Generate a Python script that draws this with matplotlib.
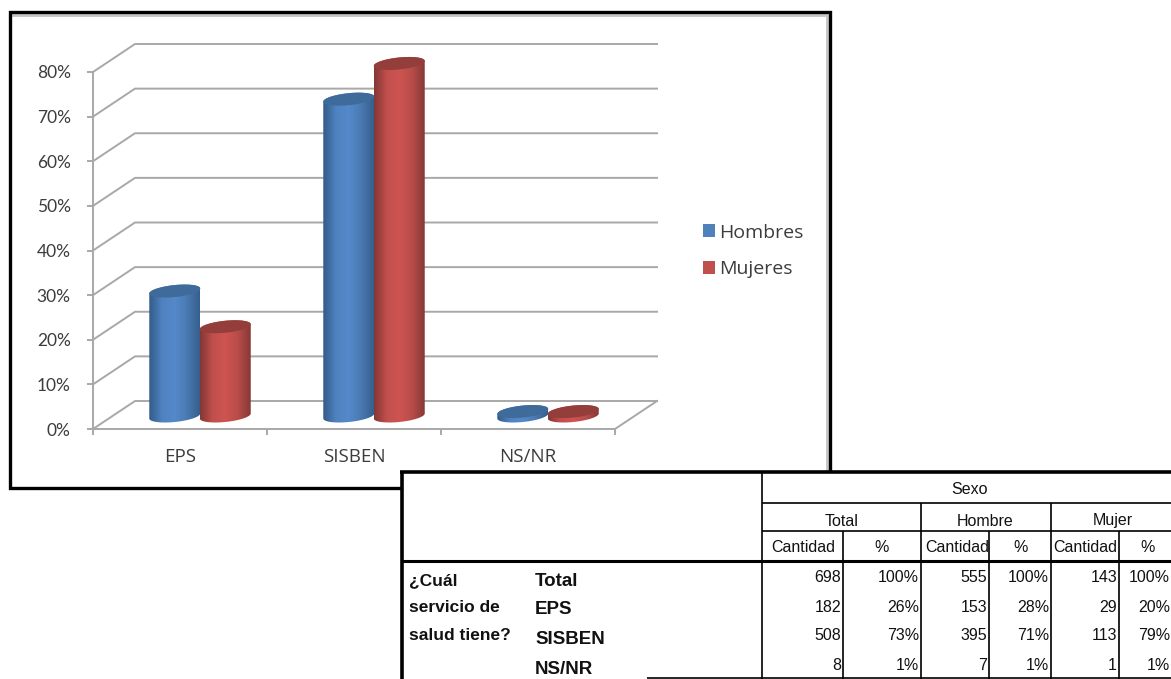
import numpy as np
import matplotlib
matplotlib.use('Agg')
from matplotlib import pyplot as plt
from matplotlib.colors import LinearSegmentedColormap
from matplotlib.patches import Polygon, Rectangle

# chart data
CATEGORIES = ['EPS', 'SISBEN', 'NS/NR']
HOMBRES = [28, 71, 1]
MUJERES = [20, 79, 1]
Y_TICKS = [0, 10, 20, 30, 40, 50, 60, 70, 80]
LEGEND_LABELS = ['Hombres', 'Mujeres']

# table data
SEX_HEADERS = ['Total', 'Hombre', 'Mujer']
QUESTION = ['¿Cuál', 'servicio de', 'salud tiene?']
ROW_NAMES = ['Total', 'EPS', 'SISBEN', 'NS/NR']
COUNTS_TOTAL = [698, 182, 508, 8]
PCT_TOTAL = [100, 26, 73, 1]
COUNTS_HOMBRE = [555, 153, 395, 7]
PCT_HOMBRE = [100, 28, 71, 1]
COUNTS_MUJER = [143, 29, 113, 1]
PCT_MUJER = [100, 20, 79, 1]

W, H = 1171, 679
X0, Y0 = 93, 429          # pixel of the chart origin
PX_X = 174                # pixels per category
PX_Y = 4.4625             # pixels per percent
DEPTH_X = 42 / PX_X
DEPTH_Y = 28 / PX_Y
CHART_FONT = 'Lato'
LABEL_FONT = 'Open Sans'
TABLE_FONT = 'Liberation Sans'
GRID = '#a8a8a8'
TEXT = '#3c3c3c'

BLUE = LinearSegmentedColormap.from_list('b', ['#335c8a', '#4f82bf', '#5489ca', '#4a7ab2', '#355f8e'])
RED = LinearSegmentedColormap.from_list('r', ['#843836', '#c24f4c', '#cd5451', '#b94c49', '#873937'])


def cylinder(ax, cx, value, cmap, cap):
    a = 25.5 / PX_X
    b = 6 / PX_Y
    s = 2.5 / PX_Y
    base = DEPTH_Y / 2 - 1 / PX_Y
    top = base + value
    t1 = np.linspace(np.pi, 2 * np.pi, 40)
    t2 = np.linspace(0, np.pi, 40)
    lower = np.column_stack([cx + a * np.cos(t1), base + b * np.sin(t1) + s * np.cos(t1)])
    upper = np.column_stack([cx + a * np.cos(t2), top + b * np.sin(t2) + s * np.cos(t2)])
    body = Polygon(np.vstack([lower, upper]), closed=True, fc='none', ec='none', transform=ax.transData)
    ax.add_patch(body)
    img = ax.imshow(np.linspace(0, 1, 64)[np.newaxis, :], extent=(cx - a, cx + a, base - 2 * b, top + 2 * b),
                    aspect='auto', cmap=cmap, zorder=3, interpolation='bilinear')
    img.set_clip_path(body)
    t = np.linspace(0, 2 * np.pi, 80)
    ax.add_patch(Polygon(np.column_stack([cx + a * np.cos(t), top + b * np.sin(t) + s * np.cos(t)]),
                         closed=True, fc=cap, ec='none', zorder=4))


fig = plt.figure(figsize=(W / 100, H / 100), dpi=100)

# chart axes cover the whole figure, spines sit on the data origin
ax = fig.add_axes([0, 0, 1, 1])
ax.set_zorder(1)
xlim = (-X0 / PX_X, (W - X0) / PX_X)
ylim = ((Y0 - H) / PX_Y, Y0 / PX_Y)

for v in Y_TICKS:
    ax.plot([0, DEPTH_X, 3 + DEPTH_X], [v, v + DEPTH_Y, v + DEPTH_Y], color=GRID, lw=1.4, zorder=1)
ax.plot([3, 3 + DEPTH_X], [0, DEPTH_Y], color=GRID, lw=1.4, zorder=1)

for i in range(len(CATEGORIES)):
    cylinder(ax, i + 0.47, HOMBRES[i], BLUE, '#3f6b9b')
    cylinder(ax, i + 0.76, MUJERES[i], RED, '#943e3c')

ax.set_xlim(xlim)
ax.set_ylim(ylim)

for side in ['top', 'right']:
    ax.spines[side].set_visible(False)
for side in ['left', 'bottom']:
    ax.spines[side].set_position(('data', 0))
    ax.spines[side].set_color(GRID)
    ax.spines[side].set_linewidth(1.4)
ax.spines['left'].set_bounds(0, 80)
ax.spines['bottom'].set_bounds(0, 3)
ax.set_yticks(Y_TICKS)
ax.set_yticklabels(['%d%%' % v for v in Y_TICKS], fontname=CHART_FONT, fontsize=12.5, color=TEXT)
ax.set_xticks([0, 1, 2, 3])
ax.set_xticklabels([])
ax.set_xticks([0.5, 1.5, 2.5], minor=True)
ax.set_xticklabels(CATEGORIES, minor=True, fontname=LABEL_FONT, fontsize=13.5, color=TEXT)
ax.tick_params(axis='x', which='major', length=4, width=1.4, color=GRID)
ax.tick_params(axis='x', which='minor', length=0, pad=14)
ax.tick_params(axis='y', length=4, width=1.4, color=GRID, pad=12)

handles = [Rectangle((0, 0), 1, 1, fc='#4f81bd'), Rectangle((0, 0), 1, 1, fc='#c0504d')]
ax.legend(handles, LEGEND_LABELS, loc='upper left', bbox_to_anchor=(688 / W, 1 - 209 / H),
          bbox_transform=fig.transFigure, frameon=False, handlelength=0.65, handleheight=0.65,
          handletextpad=0.2, labelspacing=0.95, borderpad=0.25,
          prop={'family': LABEL_FONT, 'size': 14}, labelcolor=TEXT)

# overlay in pixel coordinates for the frame and the pasted table
ov = fig.add_axes([0, 0, 1, 1])
ov.set_zorder(2)
ov.patch.set_visible(False)
ov.set_xlim(0, W)
ov.set_ylim(H, 0)
ov.axis('off')

ov.plot([13, 827, 827], [15, 15, 485], color='#c4c4c4', lw=2, zorder=1)
ov.add_patch(Rectangle((10, 12), 820, 476, fc='none', ec='black', lw=2.4, zorder=2))

ov.add_patch(Rectangle((401, 472), W - 401, H - 472, fc='white', ec='none', zorder=3))


def hline(y, x1, x2, lw=1.2):
    ov.plot([x1, x2], [y, y], color='black', lw=lw, zorder=4, solid_capstyle='butt')


def vline(x, y1, y2, lw=1.2):
    ov.plot([x, x], [y1, y2], color='black', lw=lw, zorder=4, solid_capstyle='butt')


hline(472, 400, W, 2.6)
vline(402, 471, H, 2.6)
hline(503, 762, W)
hline(531, 762, W)
hline(561, 402, W, 2.2)
hline(678, 647, W)
vline(762, 472, H)
vline(921, 503, H)
vline(1051, 503, H)
for x in [843, 989, 1119]:
    vline(x, 531, H)


def tab_text(x, y, s, ha='center', size=11.5, **kw):
    ov.text(x, y, s, ha=ha, va='center', fontsize=size, family=TABLE_FONT, color='#111111', zorder=5, **kw)


tab_text(970, 489, 'Sexo')
for x, s in zip([842, 985, 1113], SEX_HEADERS):
    tab_text(x, 521, s)
for x, s in zip([803, 882, 957, 1021, 1085, 1148], ['Cantidad', '%'] * 3):
    tab_text(x, 547, s)

for y, s in zip([581, 608, 635], QUESTION):
    tab_text(409, y, s, ha='left', size=12.5, weight='bold')
for y, s in zip([581, 610, 639, 669], ROW_NAMES):
    tab_text(535, y, s, ha='left', size=13.5, weight='bold')

columns = [(841, COUNTS_TOTAL, ''), (919, PCT_TOTAL, '%'), (987, COUNTS_HOMBRE, ''),
           (1049, PCT_HOMBRE, '%'), (1117, COUNTS_MUJER, ''), (1170, PCT_MUJER, '%')]
for x, vals, suffix in columns:
    for y, v in zip([578, 607, 636, 665], vals):
        tab_text(x, y, '%d%s' % (v, suffix), ha='right')

fig.savefig('out.png', dpi=100)
